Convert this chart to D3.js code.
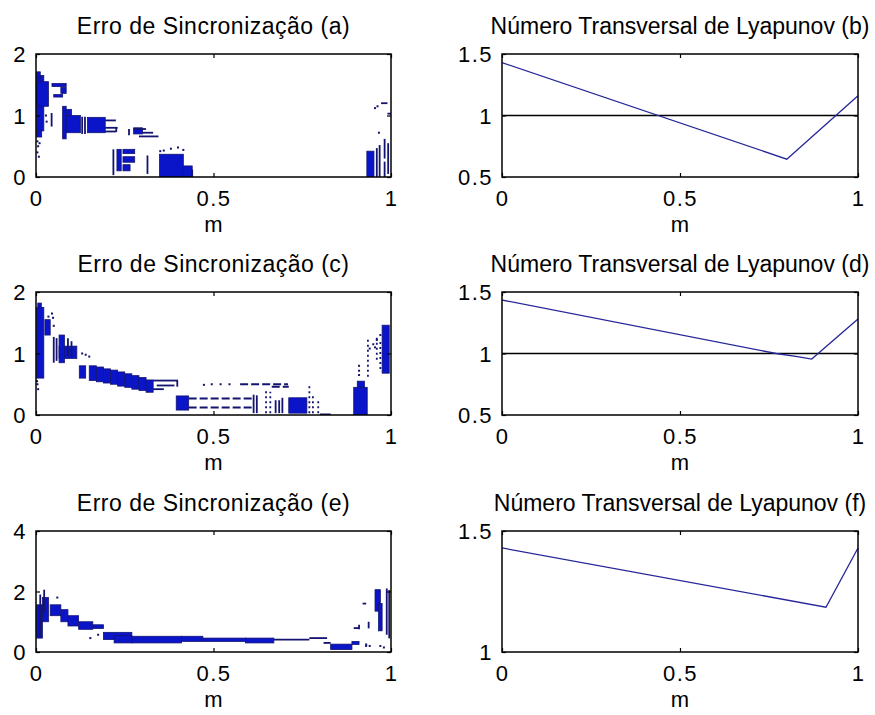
<!DOCTYPE html>
<html><head><meta charset="utf-8">
<script src="https://cdn.jsdelivr.net/npm/d3@7"></script>
<style>
body{margin:0;background:#fff}
text{font-family:"Liberation Sans",Arial,sans-serif;fill:#000}
</style></head><body>
<svg id="c" width="875" height="715"></svg>
<script>
// ---------------- data ----------------
const xTicks = [0, 0.5, 1];
const xTickLabels = ["0", "0.5", "1"];
const xLabel = "m";
const titlesLeft = ["Erro de Sincronização (a)", "Erro de Sincronização (c)", "Erro de Sincronização (e)"];
const titlesRight = ["Número Transversal de Lyapunov (b)", "Número Transversal de Lyapunov (d)", "Número Transversal de Lyapunov (f)"];
const yDomainsLeft = [[0, 2], [0, 2], [0, 4]];
const yTicksLeft = [[0, 1, 2], [0, 1, 2], [0, 2, 4]];
const yDomainsRight = [[0.5, 1.5], [0.5, 1.5], [1, 1.5]];
const yTicksRight = [[0.5, 1, 1.5], [0.5, 1, 1.5], [1, 1.5]];
const yTickLabelsRight = [["0.5", "1", "1.5"], ["0.5", "1", "1.5"], ["1", "1.5"]];
const refLevel = [1, 1, null];

// Lyapunov number lines (m, value)
const lyapB_m = [0, 0.80, 1];
const lyapB_v = [1.43, 0.645, 1.16];
const lyapD_m = [0, 0.77, 0.83, 0.87, 1];
const lyapD_v = [1.435, 1.0, 0.975, 0.955, 1.28];
const lyapF_m = [0, 0.91, 1];
const lyapF_v = [1.43, 1.185, 1.43];

// synchronization error clouds: blocks [m0, m1, v0, v1]
const blocksA = [
  [0.002,0.022,0.75,1.65],[0.002,0.012,1.60,1.71],[0.002,0.035,1.15,1.55],[0.002,0.016,0.65,0.75],
  [0.045,0.085,1.47,1.52],[0.050,0.075,1.30,1.34],[0.070,0.085,1.36,1.46],
  [0.078,0.125,0.72,1.00],[0.075,0.085,0.62,1.15],[0.085,0.100,1.00,1.10],
  [0.145,0.195,0.72,0.97],
  [0.275,0.300,0.70,0.80],
  [0.228,0.240,0.10,0.45],[0.245,0.278,0.38,0.45],[0.245,0.278,0.24,0.33],[0.245,0.265,0.10,0.20],
  [0.348,0.415,0.00,0.37],[0.415,0.440,0.00,0.18],
  [0.932,0.952,0.00,0.42]
];
const stemsA = [
  [0.044,0.82,1.04],[0.130,0.70,0.98],[0.138,0.70,0.98],[0.226,0.73,0.80],[0.262,0.68,0.78],
  [0.218,0.03,0.45],[0.314,0.05,0.35],[0.440,0.00,0.12],
  [0.960,0.00,0.47],[0.968,0.00,0.52],[0.982,0.30,0.62],[0.982,0.00,0.25],[0.992,0.05,0.55]
];
const hlinesA = [
  [0.195,0.225,0.92],[0.195,0.230,0.80],[0.195,0.225,0.74],
  [0.275,0.310,0.78],[0.290,0.345,0.66],[0.300,0.330,0.72],
  [0.972,0.990,1.20],[0.990,1.000,1.03]
];
const dashedA = [];
const dotsA = [
  [0.004,0.58],[0.006,0.50],[0.004,0.40],[0.010,0.55],[0.008,0.33],[0.030,0.90],[0.028,1.00],
  [0.360,0.43],[0.380,0.46],[0.400,0.48],[0.415,0.44],[0.350,0.42],
  [0.955,1.12],[0.962,1.15],[0.966,0.72]
];

const blocksC = [
  [0.002,0.022,0.60,1.75],[0.005,0.015,1.75,1.82],[0.025,0.040,1.30,1.55],
  [0.065,0.115,0.92,1.12],[0.065,0.080,0.85,1.30],
  [0.122,0.140,0.60,0.80],
  [0.150,0.170,0.56,0.80],[0.170,0.190,0.54,0.78],[0.190,0.210,0.52,0.75],[0.210,0.230,0.50,0.73],
  [0.230,0.250,0.47,0.70],[0.250,0.270,0.45,0.67],[0.270,0.290,0.42,0.64],[0.290,0.310,0.40,0.61],
  [0.310,0.330,0.37,0.57],
  [0.395,0.430,0.08,0.31],
  [0.712,0.763,0.03,0.28],
  [0.895,0.933,0.00,0.45],[0.905,0.925,0.45,0.55],
  [0.975,0.995,0.68,1.46]
];
const stemsC = [
  [0.050,0.85,1.27],[0.058,0.88,1.25],[0.090,0.95,1.25],[0.100,0.95,1.20],[0.398,0.46,0.56],
  [0.613,0.03,0.33],[0.622,0.03,0.32],[0.675,0.03,0.24],[0.685,0.03,0.24],[0.694,0.03,0.28]
];
const dottedStemsC = [
  [0.648,0.03,0.40],[0.660,0.03,0.38],[0.770,0.03,0.48],[0.780,0.03,0.35],[0.795,0.03,0.25],
  [0.935,0.62,1.25],[0.960,0.90,1.30],[0.970,0.75,1.20]
];
const hlinesC = [
  [0.330,0.400,0.56],[0.340,0.390,0.48],[0.330,0.360,0.42],[0.800,0.830,0.01]
];
const dashedC = [
  [0.430,0.610,0.27],[0.430,0.610,0.12],[0.575,0.710,0.50],[0.664,0.712,0.46]
];
const dotsC = [
  [0.004,0.50],[0.006,0.42],[0.003,0.55],[0.035,1.60],[0.045,1.65],[0.050,1.45],[0.048,1.58],
  [0.130,1.00],[0.140,0.98],[0.150,0.95],[0.473,0.49],[0.495,0.50],[0.520,0.50],[0.545,0.50],
  [0.910,0.80],[0.910,0.72],[0.910,0.65],
  [0.940,1.08],[0.950,1.15],[0.960,1.22],[0.970,1.30],[0.955,1.10]
];

const blocksE = [
  [0.002,0.018,0.46,1.56],[0.018,0.035,1.00,1.80],[0.040,0.070,1.20,1.56],[0.070,0.090,1.00,1.40],
  [0.090,0.120,0.86,1.20],[0.120,0.160,0.75,1.00],[0.160,0.190,0.78,0.90],
  [0.190,0.270,0.41,0.65],[0.220,0.270,0.30,0.54],[0.270,0.410,0.30,0.52],[0.410,0.470,0.35,0.52],
  [0.470,0.590,0.35,0.46],[0.590,0.670,0.30,0.46],
  [0.830,0.890,0.08,0.26],[0.890,0.910,0.25,0.35],
  [0.955,0.970,1.35,2.06],[0.965,0.975,0.70,1.60]
];
const stemsE = [
  [0.023,1.30,2.06],[0.012,0.50,1.90],[0.910,0.75,0.90],[0.937,0.78,1.00],[0.988,0.57,2.10],[0.995,0.45,2.05]
];
const hlinesE = [
  [0.670,0.770,0.41],[0.770,0.820,0.46],[0.810,0.830,0.30],[0.895,0.910,0.79],[0.920,0.930,1.60]
];
const dashedE = [];
const dotsE = [
  [0.930,0.20],[0.940,0.20],[0.970,0.20],[0.980,0.15],[0.930,0.25],[0.153,0.46],[0.175,0.57],[0.060,1.80]
];

// ---------------- drawing ----------------
const svg = d3.select("#c");
svg.append("rect").attr("width",875).attr("height",715).attr("fill","#fff");

const colX = [[36, 391], [502, 858]];
const rowY = [[54, 177], [292, 415], [531, 652]];
const FS = 22, FT = 23;
const BLUE = "#0a14c8", NAVY = "#141470", LINE = "#26269a";

function frame(g, x, y, yTicks, yLabels, title, spacing) {
  const [x0, x1] = x.range(), [y1, y0] = y.range();
  const ab = g.append("g").attr("transform", `translate(0,${y1})`)
    .call(d3.axisBottom(x).tickValues(xTicks).tickSize(-4).tickPadding(0).tickFormat((d,i)=>xTickLabels[i]));
  const at = g.append("g").attr("transform", `translate(0,${y0})`)
    .call(d3.axisTop(x).tickValues(xTicks).tickSize(-4).tickFormat(""));
  const al = g.append("g").attr("transform", `translate(${x0},0)`)
    .call(d3.axisLeft(y).tickValues(yTicks).tickSize(-4).tickPadding(9).tickFormat((d,i)=>yLabels[i]));
  const ar = g.append("g").attr("transform", `translate(${x1},0)`)
    .call(d3.axisRight(y).tickValues(yTicks).tickSize(-4).tickFormat(""));
  [ab, at, al, ar].forEach(a => {
    a.select(".domain").remove();
    a.selectAll("line").attr("stroke", "#000").attr("stroke-width", 1.2);
    a.selectAll("text").attr("font-size", FS).attr("letter-spacing", 1.5)
      .attr("font-family", '"Liberation Sans",Arial,sans-serif').attr("fill","#000");
  });
  ab.selectAll("text").attr("dy", null).attr("y", 29);
  al.selectAll("text").attr("dy", "0.36em");
  g.append("rect").attr("x", x0).attr("y", y0).attr("width", x1 - x0).attr("height", y1 - y0)
    .attr("fill", "none").attr("stroke", "#000").attr("stroke-width", 1.5);
  g.append("text").attr("x", (x0 + x1) / 2).attr("y", y0 - 20).attr("text-anchor", "middle")
    .attr("font-size", FT).attr("letter-spacing", spacing).text(title);
  g.append("text").attr("x", (x0 + x1) / 2).attr("y", y1 + 55).attr("text-anchor", "middle")
    .attr("font-size", FS).text(xLabel);
}

const leftData = [
  {blocks: blocksA, stems: stemsA, dotted: [], hlines: hlinesA, dashed: dashedA, dots: dotsA},
  {blocks: blocksC, stems: stemsC, dotted: dottedStemsC, hlines: hlinesC, dashed: dashedC, dots: dotsC},
  {blocks: blocksE, stems: stemsE, dotted: [], hlines: hlinesE, dashed: dashedE, dots: dotsE}
];
const rightData = [
  {m: lyapB_m, v: lyapB_v}, {m: lyapD_m, v: lyapD_v}, {m: lyapF_m, v: lyapF_v}
];

for (let r = 0; r < 3; r++) {
  {
    const x = d3.scaleLinear().domain([0, 1]).range(colX[0]);
    const y = d3.scaleLinear().domain(yDomainsLeft[r]).range([rowY[r][1], rowY[r][0]]);
    const g = svg.append("g");
    const cid = "clipL" + r;
    svg.append("clipPath").attr("id", cid).append("rect")
      .attr("x", colX[0][0]).attr("y", rowY[r][0]).attr("width", colX[0][1]-colX[0][0]).attr("height", rowY[r][1]-rowY[r][0]);
    const p = g.append("g").attr("clip-path", `url(#${cid})`);
    const D = leftData[r];
    p.selectAll(".blk").data(D.blocks).join("rect")
      .attr("x", d => x(d[0])).attr("y", d => y(d[3]))
      .attr("width", d => Math.max(x(d[1]) - x(d[0]), 1.5))
      .attr("height", d => Math.max(y(d[2]) - y(d[3]), 1.5))
      .attr("fill", BLUE).attr("stroke", NAVY).attr("stroke-width", 0.8);
    p.selectAll(".stm").data(D.stems).join("line")
      .attr("x1", d => x(d[0])).attr("x2", d => x(d[0])).attr("y1", d => y(d[1])).attr("y2", d => y(d[2]))
      .attr("stroke", NAVY).attr("stroke-width", 1.8);
    p.selectAll(".dst").data(D.dotted).join("line")
      .attr("x1", d => x(d[0])).attr("x2", d => x(d[0])).attr("y1", d => y(d[1])).attr("y2", d => y(d[2]))
      .attr("stroke", NAVY).attr("stroke-width", 1.8).attr("stroke-dasharray", "2,3");
    p.selectAll(".hl").data(D.hlines).join("line")
      .attr("x1", d => x(d[0])).attr("x2", d => x(d[1])).attr("y1", d => y(d[2])).attr("y2", d => y(d[2]))
      .attr("stroke", NAVY).attr("stroke-width", 1.8);
    p.selectAll(".dh").data(D.dashed).join("line")
      .attr("x1", d => x(d[0])).attr("x2", d => x(d[1])).attr("y1", d => y(d[2])).attr("y2", d => y(d[2]))
      .attr("stroke", NAVY).attr("stroke-width", 2).attr("stroke-dasharray", "8,3");
    p.selectAll(".dt").data(D.dots).join("rect")
      .attr("x", d => x(d[0]) - 1).attr("y", d => y(d[1]) - 1).attr("width", 2).attr("height", 2)
      .attr("fill", NAVY);
    frame(g, x, y, yTicksLeft[r], yTicksLeft[r].map(String), titlesLeft[r], 0.5);
  }
  {
    const x = d3.scaleLinear().domain([0, 1]).range(colX[1]);
    const y = d3.scaleLinear().domain(yDomainsRight[r]).range([rowY[r][1], rowY[r][0]]);
    const g = svg.append("g");
    if (refLevel[r] !== null) {
      g.append("line").attr("x1", x(0)).attr("x2", x(1)).attr("y1", y(refLevel[r])).attr("y2", y(refLevel[r]))
        .attr("stroke", "#000").attr("stroke-width", 1.3);
    }
    const D = rightData[r];
    const pts = D.m.map((m, i) => [m, D.v[i]]);
    g.append("path").datum(pts)
      .attr("d", d3.line().x(d => x(d[0])).y(d => y(d[1])))
      .attr("fill", "none").attr("stroke", LINE).attr("stroke-width", 1.3);
    frame(g, x, y, yTicksRight[r], yTickLabelsRight[r], titlesRight[r], 0);
  }
}
</script>
</body></html>
